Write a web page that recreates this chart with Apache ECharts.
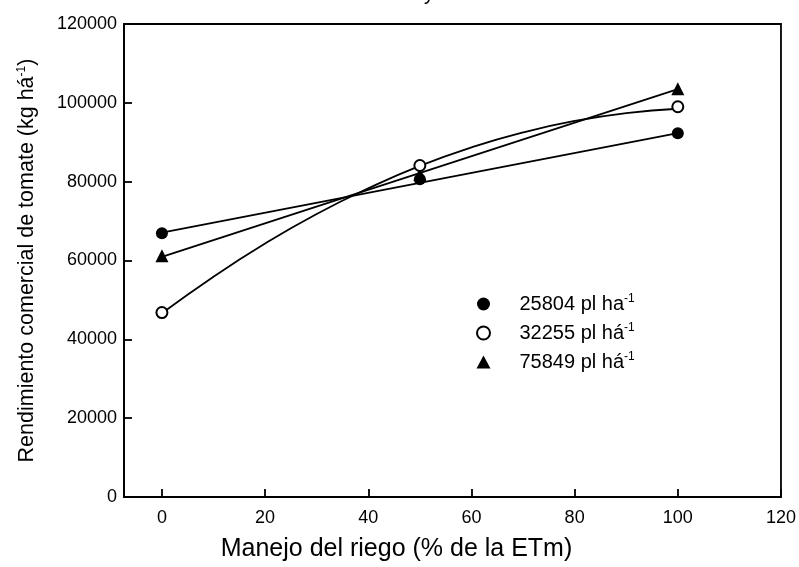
<!DOCTYPE html>
<html>
<head>
<meta charset="utf-8">
<script src="https://cdn.jsdelivr.net/npm/echarts@6/dist/echarts.min.js"></script>
<style>
	html, body { margin: 0; padding: 0; background: #fff; }
	#main { width: 799px; height: 567px; }
</style>
</head>
<body>
<div id="main"></div>
<script>
// riego (% ETm)
var riego = [0, 50, 100];
// rendimiento observado por densidad
var rend25804 = [66900, 80600, 92300];
var rend32255 = [46800, 84100, 99000];
var rend75849 = [61200, 81800, 103600];
// curvas de ajuste
var ajusteX25804 = [0, 100];
var ajuste25804 = [67100, 92300];
var ajusteX75849 = [0, 100];
var ajuste75849 = [60900, 103500];
var ajusteX32255 = [0, 10, 20, 30, 40, 50, 60, 70, 80, 90, 100];
var ajuste32255 = [46600, 55900, 64300, 71800, 78300, 84000, 88700, 92500, 95400, 97400, 98500];
var xTicks = [0, 20, 40, 60, 80, 100, 120];
var nombres = ["25804 pl ha{s|-1}", "32255 pl há{s|-1}", "75849 pl há{s|-1}"];

function pares(xs, ys) {
	var out = [];
	for(var i = 0; i < xs.length; i++) {
		out.push([xs[i], ys[i]]);
	}
	return out;
}

var chart = echarts.init(document.getElementById('main'));
var fuente = 'Liberation Sans, Arial, sans-serif';
var lineaAjuste = { color: '#000', width: 1.8 };

chart.setOption({
	animation: false,
	textStyle: { fontFamily: fuente, color: '#000' },
	grid: {
		left: 124,
		right: 17,
		top: 24,
		bottom: 69,
		show: true,
		borderColor: '#000',
		borderWidth: 1.8
	},
	graphic: [{
		type: 'text',
		left: 424,
		top: -16,
		style: { text: 'y', fontSize: 20, fontFamily: fuente, fill: '#000' }
	}],
	legend: {
		orient: 'vertical',
		left: 471,
		top: 288,
		itemWidth: 14,
		itemHeight: 13,
		itemGap: 8,
		data: [
			{ name: nombres[0], icon: 'circle' },
			{ name: nombres[1], icon: 'emptyCircle' },
			{ name: nombres[2], icon: 'triangle' }
		],
		textStyle: {
			fontSize: 20,
			color: '#000',
			padding: [0, 0, 0, 24],
			rich: {
				s: { fontSize: 12, color: '#000', verticalAlign: 'top', padding: [0, 0, 10, 0] }
			}
		}
	},
	xAxis: {
		type: 'value',
		min: -7.35,
		max: 120,
		name: 'Manejo del riego (% de la ETm)',
		nameLocation: 'middle',
		nameGap: 40,
		nameTextStyle: { fontSize: 25, color: '#000', padding: [0, 112, 0, 0] },
		splitLine: { show: false },
		axisLine: { onZero: false, lineStyle: { color: '#000', width: 1.8 } },
		axisTick: { inside: true, length: 8, customValues: xTicks, lineStyle: { color: '#000', width: 1.8 } },
		axisLabel: { customValues: xTicks, fontSize: 18, color: '#000', margin: 12 }
	},
	yAxis: {
		type: 'value',
		min: 0,
		max: 120000,
		interval: 20000,
		name: 'Rendimiento comercial de tomate (kg há{s|-1})',
		nameLocation: 'middle',
		nameGap: 86,
		nameRotate: 90,
		nameTextStyle: {
			fontSize: 21.5,
			color: '#000',
			rich: {
				s: { fontSize: 12, color: '#000', verticalAlign: 'top', padding: [0, 0, 10, 0] }
			}
		},
		splitLine: { show: false },
		axisLine: { onZero: false, lineStyle: { color: '#000', width: 1.8 } },
		axisTick: { inside: true, length: 8, lineStyle: { color: '#000', width: 1.8 } },
		axisLabel: {
			fontSize: 18,
			color: '#000',
			margin: 7,
			formatter: function(v) {
				return String(v);
			}
		}
	},
	series: [{
		type: 'line',
		data: pares(ajusteX25804, ajuste25804),
		showSymbol: false,
		lineStyle: lineaAjuste,
		silent: true
	}, {
		type: 'line',
		data: pares(ajusteX75849, ajuste75849),
		showSymbol: false,
		lineStyle: lineaAjuste,
		silent: true
	}, {
		type: 'line',
		data: pares(ajusteX32255, ajuste32255),
		smooth: true,
		showSymbol: false,
		lineStyle: lineaAjuste,
		silent: true
	}, {
		name: nombres[0],
		type: 'scatter',
		data: pares(riego, rend25804),
		symbol: 'circle',
		symbolSize: 12,
		itemStyle: { color: '#000', opacity: 1 },
		z: 5
	}, {
		name: nombres[2],
		type: 'scatter',
		data: pares(riego, rend75849),
		symbol: 'triangle',
		symbolSize: 13,
		itemStyle: { color: '#000', opacity: 1 },
		z: 6
	}, {
		name: nombres[1],
		type: 'scatter',
		data: pares(riego, rend32255),
		symbol: 'emptyCircle',
		symbolSize: 11,
		itemStyle: { color: '#000', borderColor: '#000', borderWidth: 1.6, opacity: 1 },
		z: 7
	}]
});
</script>
</body>
</html>
